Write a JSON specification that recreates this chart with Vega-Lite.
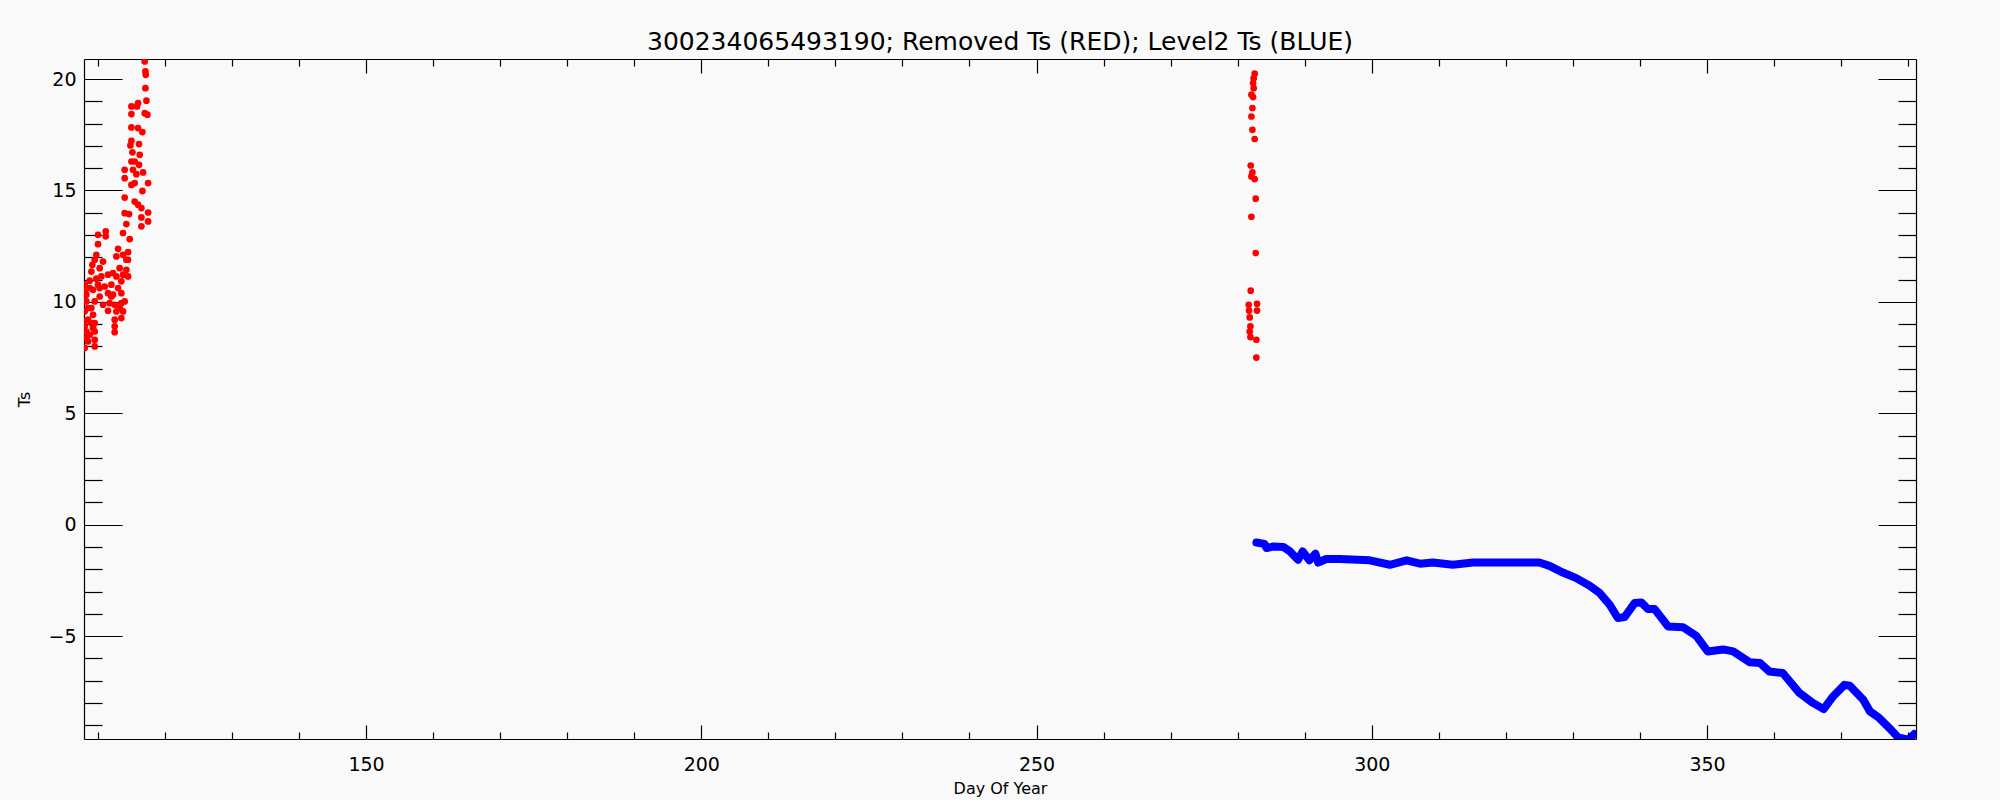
{
  "$schema": "https://vega.github.io/schema/vega-lite/v6.json",
  "width": 1832,
  "height": 680,
  "autosize": {"type": "none"},
  "padding": {"left": 84, "top": 59, "right": 84, "bottom": 61},
  "background": "#f9f9f9",
  "title": {
    "text": "300234065493190; Removed Ts (RED); Level2 Ts (BLUE)",
    "font": "DejaVu Sans",
    "fontSize": 25,
    "fontWeight": "normal",
    "color": "#000000",
    "anchor": "middle",
    "baseline": "alphabetic",
    "offset": 9,
    "dy": 26
  },
  "config": {
    "view": {"stroke": null},
    "axis": {"grid": false, "domainColor": "#000000", "tickColor": "#000000", "domainWidth": 1.2, "tickWidth": 1.2, "labelColor": "#000000", "titleColor": "#000000"}
  },
  "datasets": {
    "removed": [
      {"day": 117.0, "ts": 20.79}, {"day": 117.1, "ts": 20.34}, {"day": 117.15, "ts": 20.19}, {"day": 117.1, "ts": 19.59},
      {"day": 117.25, "ts": 19.03}, {"day": 116.0, "ts": 18.92}, {"day": 115.01, "ts": 18.77}, {"day": 115.01, "ts": 18.43},
      {"day": 115.85, "ts": 18.77}, {"day": 117.0, "ts": 18.47}, {"day": 117.4, "ts": 18.4}, {"day": 115.01, "ts": 17.83},
      {"day": 116.0, "ts": 17.8}, {"day": 116.65, "ts": 17.62}, {"day": 115.01, "ts": 17.23}, {"day": 116.15, "ts": 17.08},
      {"day": 114.86, "ts": 17.02}, {"day": 115.16, "ts": 16.71}, {"day": 116.25, "ts": 16.6}, {"day": 115.01, "ts": 16.3},
      {"day": 115.5, "ts": 16.3}, {"day": 116.15, "ts": 16.15}, {"day": 114.01, "ts": 15.93}, {"day": 115.25, "ts": 15.93},
      {"day": 115.75, "ts": 15.73}, {"day": 116.75, "ts": 15.81}, {"day": 114.01, "ts": 15.55}, {"day": 117.5, "ts": 15.33},
      {"day": 115.01, "ts": 15.25}, {"day": 115.5, "ts": 15.33}, {"day": 116.65, "ts": 14.98}, {"day": 114.01, "ts": 14.68},
      {"day": 115.5, "ts": 14.5}, {"day": 116.0, "ts": 14.36}, {"day": 116.5, "ts": 14.21}, {"day": 117.5, "ts": 14.01},
      {"day": 114.01, "ts": 13.98}, {"day": 114.66, "ts": 13.94}, {"day": 116.5, "ts": 13.79}, {"day": 117.5, "ts": 13.61},
      {"day": 116.5, "ts": 13.39}, {"day": 114.26, "ts": 13.49}, {"day": 113.76, "ts": 13.09}, {"day": 114.76, "ts": 12.82},
      {"day": 111.18, "ts": 13.16}, {"day": 111.18, "ts": 12.94}, {"day": 110.03, "ts": 13.01}, {"day": 110.03, "ts": 12.59},
      {"day": 113.02, "ts": 12.38}, {"day": 112.77, "ts": 12.04}, {"day": 113.76, "ts": 12.11}, {"day": 114.51, "ts": 12.23},
      {"day": 114.51, "ts": 11.89}, {"day": 109.78, "ts": 12.11}, {"day": 109.54, "ts": 11.89}, {"day": 110.78, "ts": 11.81},
      {"day": 109.19, "ts": 11.66}, {"day": 110.28, "ts": 11.51}, {"day": 109.04, "ts": 11.36}, {"day": 113.26, "ts": 11.51},
      {"day": 114.26, "ts": 11.44}, {"day": 114.51, "ts": 11.14}, {"day": 112.27, "ts": 11.29}, {"day": 111.52, "ts": 11.22},
      {"day": 110.53, "ts": 11.14}, {"day": 109.78, "ts": 11.04}, {"day": 108.79, "ts": 10.95}, {"day": 108.04, "ts": 10.77},
      {"day": 112.77, "ts": 11.14}, {"day": 113.76, "ts": 11.22}, {"day": 108.29, "ts": 10.32}, {"day": 109.29, "ts": 10.54},
      {"day": 111.03, "ts": 10.69}, {"day": 112.02, "ts": 10.77}, {"day": 113.02, "ts": 10.62}, {"day": 113.51, "ts": 10.39},
      {"day": 111.52, "ts": 10.39}, {"day": 110.28, "ts": 10.24}, {"day": 109.54, "ts": 10.02}, {"day": 108.29, "ts": 10.02},
      {"day": 110.78, "ts": 9.87}, {"day": 111.77, "ts": 9.94}, {"day": 112.52, "ts": 9.87}, {"day": 113.51, "ts": 9.94},
      {"day": 113.76, "ts": 9.57}, {"day": 112.77, "ts": 9.57}, {"day": 111.52, "ts": 9.6}, {"day": 109.29, "ts": 9.42},
      {"day": 108.04, "ts": 9.57}, {"day": 108.54, "ts": 9.2}, {"day": 112.52, "ts": 9.2}, {"day": 113.51, "ts": 9.27},
      {"day": 109.54, "ts": 9.05}, {"day": 108.04, "ts": 8.9}, {"day": 112.52, "ts": 8.9}, {"day": 109.54, "ts": 8.67},
      {"day": 108.79, "ts": 8.52}, {"day": 112.52, "ts": 8.64}, {"day": 108.29, "ts": 8.37}, {"day": 109.54, "ts": 8.3},
      {"day": 108.54, "ts": 8.22}, {"day": 109.54, "ts": 8.0}, {"day": 108.04, "ts": 7.93}, {"day": 113.26, "ts": 9.72},
      {"day": 114.01, "ts": 10.02}, {"day": 110.28, "ts": 10.62}, {"day": 109.04, "ts": 9.72}, {"day": 108.04, "ts": 9.12},
      {"day": 108.29, "ts": 8.67}, {"day": 108.04, "ts": 10.02}, {"day": 109.29, "ts": 8.82}, {"day": 112.02, "ts": 10.24},
      {"day": 108.04, "ts": 10.47}, {"day": 108.79, "ts": 10.62}, {"day": 108.54, "ts": 9.72}, {"day": 109.04, "ts": 9.05},
      {"day": 110.03, "ts": 10.77}, {"day": 112.27, "ts": 10.32}, {"day": 113.51, "ts": 10.92}, {"day": 114.26, "ts": 11.89},
      {"day": 282.54, "ts": 20.24}, {"day": 282.39, "ts": 20.04}, {"day": 282.3, "ts": 19.82}, {"day": 282.39, "ts": 19.59},
      {"day": 282.05, "ts": 19.3}, {"day": 282.3, "ts": 19.19}, {"day": 282.2, "ts": 18.7}, {"day": 282.05, "ts": 18.32},
      {"day": 282.2, "ts": 17.72}, {"day": 282.54, "ts": 17.31}, {"day": 281.95, "ts": 16.12}, {"day": 282.2, "ts": 15.81},
      {"day": 282.05, "ts": 15.63}, {"day": 282.54, "ts": 15.51}, {"day": 282.69, "ts": 14.63}, {"day": 282.05, "ts": 13.82},
      {"day": 282.69, "ts": 12.19}, {"day": 281.95, "ts": 10.5}, {"day": 281.65, "ts": 9.87}, {"day": 282.89, "ts": 9.91},
      {"day": 281.7, "ts": 9.61}, {"day": 282.89, "ts": 9.61}, {"day": 281.8, "ts": 9.3}, {"day": 281.9, "ts": 8.9},
      {"day": 281.8, "ts": 8.67}, {"day": 281.9, "ts": 8.42}, {"day": 282.79, "ts": 8.3}, {"day": 282.79, "ts": 7.5}
    ],
    "level2": [
      {"day": 282.8, "ts": -0.8}, {"day": 284.0, "ts": -0.86}, {"day": 284.3, "ts": -1.05}, {"day": 285.3, "ts": -0.98},
      {"day": 286.8, "ts": -1.0}, {"day": 287.8, "ts": -1.2}, {"day": 289.0, "ts": -1.58}, {"day": 289.7, "ts": -1.2},
      {"day": 290.7, "ts": -1.6}, {"day": 291.6, "ts": -1.3}, {"day": 292.0, "ts": -1.7}, {"day": 293.2, "ts": -1.54},
      {"day": 295.2, "ts": -1.54}, {"day": 299.7, "ts": -1.6}, {"day": 302.7, "ts": -1.8}, {"day": 305.2, "ts": -1.6},
      {"day": 307.2, "ts": -1.75}, {"day": 309.1, "ts": -1.7}, {"day": 312.1, "ts": -1.8}, {"day": 315.1, "ts": -1.7},
      {"day": 319.1, "ts": -1.7}, {"day": 325.0, "ts": -1.7}, {"day": 326.5, "ts": -1.85}, {"day": 328.5, "ts": -2.15},
      {"day": 330.5, "ts": -2.4}, {"day": 332.5, "ts": -2.74}, {"day": 334.0, "ts": -3.07}, {"day": 335.5, "ts": -3.6},
      {"day": 336.7, "ts": -4.19}, {"day": 337.7, "ts": -4.15}, {"day": 339.2, "ts": -3.52}, {"day": 340.2, "ts": -3.49},
      {"day": 341.2, "ts": -3.79}, {"day": 342.2, "ts": -3.79}, {"day": 344.2, "ts": -4.57}, {"day": 346.4, "ts": -4.6},
      {"day": 348.4, "ts": -4.99}, {"day": 350.1, "ts": -5.69}, {"day": 352.4, "ts": -5.6}, {"day": 353.9, "ts": -5.69},
      {"day": 356.4, "ts": -6.18}, {"day": 357.9, "ts": -6.21}, {"day": 359.3, "ts": -6.59}, {"day": 361.3, "ts": -6.66},
      {"day": 363.8, "ts": -7.56}, {"day": 365.8, "ts": -8.0}, {"day": 367.4, "ts": -8.28}, {"day": 368.8, "ts": -7.71},
      {"day": 370.5, "ts": -7.19}, {"day": 371.3, "ts": -7.23}, {"day": 373.3, "ts": -7.86}, {"day": 374.3, "ts": -8.38},
      {"day": 375.7, "ts": -8.68}, {"day": 377.2, "ts": -9.13}, {"day": 378.5, "ts": -9.55}, {"day": 380.0, "ts": -9.65},
      {"day": 380.9, "ts": -9.4}
    ]
  },
  "layer": [
    {
      "data": {"name": "removed"},
      "mark": {"type": "point", "filled": true, "shape": "circle", "size": 45, "color": "#ff0000", "opacity": 1, "clip": true},
      "encoding": {
        "x": {
          "field": "day", "type": "quantitative",
          "scale": {"domain": [107.94, 381.17], "nice": false, "zero": false},
          "axis": {
            "orient": "bottom",
            "values": [110, 120, 130, 140, 150, 160, 170, 180, 190, 200, 210, 220, 230, 240, 250, 260, 270, 280, 290, 300, 310, 320, 330, 340, 350, 360, 370, 380],
            "title": "Day Of Year", "titleFont": "DejaVu Sans", "titleFontSize": 16, "titleFontWeight": "normal", "titlePadding": -1,
            "labelFont": "DejaVu Sans", "labelFontSize": 19, "labelPadding": 30, "labelFlush": false, "labelOverlap": false,
            "labelExpr": "datum.value % 50 === 0 ? datum.label : ''",
            "tickSize": {"condition": {"test": "datum.value % 50 === 0", "value": -14}, "value": -7}
          }
        },
        "y": {
          "field": "ts", "type": "quantitative",
          "scale": {"domain": [-9.62, 20.9], "nice": false, "zero": false},
          "axis": {
            "orient": "left",
            "values": [-9, -8, -7, -6, -5, -4, -3, -2, -1, 0, 1, 2, 3, 4, 5, 6, 7, 8, 9, 10, 11, 12, 13, 14, 15, 16, 17, 18, 19, 20],
            "title": "Ts", "titleFont": "DejaVu Sans", "titleFontSize": 16, "titleFontWeight": "normal", "titlePadding": 15,
            "labelFont": "DejaVu Sans", "labelFontSize": 19, "labelPadding": 46, "labelFlush": false, "labelOverlap": false,
            "labelExpr": "datum.value % 5 === 0 ? datum.label : ''",
            "tickSize": {"condition": {"test": "datum.value % 5 === 0", "value": -38}, "value": -18}
          }
        }
      }
    },
    {
      "data": {"name": "level2"},
      "mark": {"type": "line", "color": "#0000ff", "strokeWidth": 8, "strokeCap": "round", "strokeJoin": "round", "clip": true},
      "encoding": {
        "x": {
          "field": "day", "type": "quantitative",
          "scale": {"domain": [107.94, 381.17], "nice": false, "zero": false},
          "axis": {
            "orient": "top", "title": null, "labels": false,
            "values": [110, 120, 130, 140, 150, 160, 170, 180, 190, 200, 210, 220, 230, 240, 250, 260, 270, 280, 290, 300, 310, 320, 330, 340, 350, 360, 370, 380],
            "tickSize": {"condition": {"test": "datum.value % 50 === 0", "value": -14}, "value": -7}
          }
        },
        "y": {
          "field": "ts", "type": "quantitative",
          "scale": {"domain": [-9.62, 20.9], "nice": false, "zero": false},
          "axis": {
            "orient": "right", "title": null, "labels": false,
            "values": [-9, -8, -7, -6, -5, -4, -3, -2, -1, 0, 1, 2, 3, 4, 5, 6, 7, 8, 9, 10, 11, 12, 13, 14, 15, 16, 17, 18, 19, 20],
            "tickSize": {"condition": {"test": "datum.value % 5 === 0", "value": -38}, "value": -18}
          }
        }
      }
    }
  ],
  "resolve": {"axis": {"x": "independent", "y": "independent"}}
}
